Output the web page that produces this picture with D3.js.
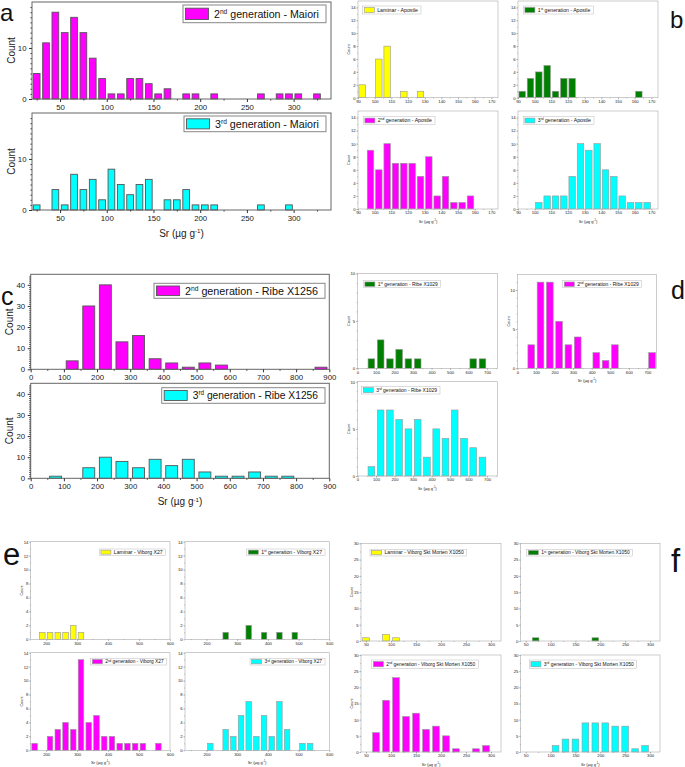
<!DOCTYPE html>
<html>
<head>
<meta charset="utf-8">
<script src="https://cdn.jsdelivr.net/npm/d3@7"></script>
<style>
  body { margin: 0; background: #fff; }
  svg { display: block; }
</style>
</head>
<body>
<script>
// Sr histograms: bin centres (µg g-1) and counts

// a - Maiori
const maioriGen2Bins = [25,35,45,55,65,75,85,95,105,115,125,135,145,155,165,185,195,215,265,285,295,305,325];
const maioriGen2Counts = [5,11,17,13,16,13,8,4,1,1,4,4,3,1,2,1,1,1,1,1,1,1,1];
const maioriGen3Bins = [25,45,55,65,75,85,95,105,115,125,135,145,165,175,185,195,205,215,265,295];
const maioriGen3Counts = [1,4,1,7,4,6,2,8,5,3,5,6,2,2,4,1,1,1,1,1];

// b - Apostle
const apostleLamBins = [92.5,102.5,107.5,117.5,127.5];
const apostleLamCounts = [2,6,8,1,1];
const apostleGen1Bins = [92.5,97.5,102.5,107.5,112.5,117.5,122.5,162.5];
const apostleGen1Counts = [1,3,4,5,1,3,3,1];
const apostleGen2Bins = [97.5,102.5,107.5,112.5,117.5,122.5,127.5,132.5,137.5,142.5,147.5,152.5,157.5];
const apostleGen2Counts = [9,6,10,7,7,7,5,8,2,5,1,1,2];
const apostleGen3Bins = [102.5,107.5,112.5,117.5,122.5,127.5,132.5,137.5,142.5,147.5,152.5,157.5,162.5,167.5];
const apostleGen3Counts = [1,2,2,2,5,10,9,10,6,5,2,1,1,1];

// c - Ribe X1256
const ribe1256Gen2Bins = [125,175,225,275,325,375,425,475,525,575,875];
const ribe1256Gen2Counts = [4,30,40,13,16,5,3,1,3,2,1];
const ribe1256Gen3Bins = [75,175,225,275,325,375,425,475,525,575,625,675,725,775];
const ribe1256Gen3Counts = [1,5,10,8,5,9,6,9,3,1,1,3,1,1];

// d - Ribe X1029
const ribe1029Gen1Bins = [75,125,175,225,275,325,625,675];
const ribe1029Gen1Counts = [1,3,1,2,1,1,1,1];
const ribe1029Gen2Bins = [75,125,175,225,275,325,425,475,525,725];
const ribe1029Gen2Counts = [3,11,11,6,3,4,2,1,3,2];
const ribe1029Gen3Bins = [75,125,175,225,275,325,375,425,475,525,575,625,675];
const ribe1029Gen3Counts = [1,7,7,6,5,6,2,5,4,7,4,3,2];

// e - Viborg X27
const x27LamBins = [187.5,212.5,237.5,262.5,287.5,312.5];
const x27LamCounts = [1,1,1,1,2,1];
const x27Gen1Bins = [262.5,337.5,387.5,437.5,487.5];
const x27Gen1Counts = [1,2,1,1,1];
const x27Gen2Bins = [162.5,212.5,237.5,262.5,287.5,312.5,337.5,362.5,387.5,412.5,437.5,462.5,487.5,512.5,562.5];
const x27Gen2Counts = [1,2,3,4,3,13,4,5,2,2,1,1,1,1,1];
const x27Gen3Bins = [212.5,262.5,287.5,312.5,337.5,362.5,387.5,412.5,437.5,462.5,512.5,537.5];
const x27Gen3Counts = [1,3,2,5,7,2,5,2,7,3,1,1];

// f - Viborg Skt Morten X1050
const x1050LamBins = [50,90,110];
const x1050LamCounts = [1,2,1];
const x1050Gen1Bins = [70,190];
const x1050Gen1Counts = [1,1];
const x1050Gen2Bins = [70,90,110,130,150,170,190,210,230,270,290];
const x1050Gen2Counts = [6,16,23,11,12,7,8,5,1,1,2];
const x1050Gen3Bins = [110,130,150,170,190,210,230,250,270,290];
const x1050Gen3Counts = [2,4,4,9,9,9,8,8,1,2];

// tick labels
const maioriXTicks = [50,100,150,200,250,300];
const maioriYTicks = [0,10];
const apostleXTicks = [90,100,110,120,130,140,150,160,170];
const apostleYTicks = [0,2,4,6,8,10,12,14];
const ribe1256XTicks = [0,100,200,300,400,500,600,700,800,900];
const ribe1256YTicks = [0,10,20,30,40];
const ribe1029XTicks = [0,100,200,300,400,500,600,700];
const ribe1029YTicks = [0,5,10];
const x27XTicks = [200,300,400,500,600];
const x27YTicks = [0,2,4,6,8,10,12,14];
const x1050XTicks = [50,100,150,200,250,300];
const x1050YTicks = [0,5,10,15,20,25,30];

const MAGENTA = "#ff00ff", CYAN = "#00ffff", YELLOW = "#ffff00", GREEN = "#008000";
const FONT = "Arial, 'Liberation Sans', sans-serif";

const big = { tick: 3, pad: 2.5, tickFont: 7.8, legFont: 10.5, labFont: 10, frame: "#666", axis: "#333", sw: 1,
              barStroke: "#555", barSW: 0.9, swX: 2.5, swW: 23, txX: 31, txPad: 7, countDx: -21, srDy: 27 };
const small = { tick: 1.5, pad: 0.8, tickFont: 4.2, legFont: 5, labFont: 4.2, frame: "#aaa", axis: "#777", sw: 0.6,
                barStroke: "#999", barSW: 0.6, swX: 1.6, swW: 10, txX: 14.5, txPad: 3, countDx: -9, srDy: 13.5 };

const svg = d3.select("body").append("svg")
  .attr("width", 685).attr("height", 767)
  .style("font-family", FONT);

// label parts: [text, superscript?]
const gen = (n, sup, rest) => [[n, false], [sup, true], [rest, false]];

const panels = [
  // a
  { big: true, box: [32,2,331,99], xDomain: [20,340], yDomain: [0,19], binWidth: 10, barFrac: 0.72,
    bins: maioriGen2Bins, counts: maioriGen2Counts, color: MAGENTA, xTicks: maioriXTicks, yTicks: maioriYTicks,
    xMinor: 25, yMinor: 1, legend: [183,5,143,17.7], label: gen("2","nd"," generation - Maiori"), count: true },
  { big: true, box: [32,113,331,210], xDomain: [20,340], yDomain: [0,19], binWidth: 10, barFrac: 0.72,
    bins: maioriGen3Bins, counts: maioriGen3Counts, color: CYAN, xTicks: maioriXTicks, yTicks: maioriYTicks,
    xMinor: 25, yMinor: 1, legend: [184,116,142,15.7], label: gen("3","rd"," generation - Maiori"), count: true, sr: true },
  // b
  { box: [358,1,498,97.7], xDomain: [90,174], yDomain: [0,15], binWidth: 5, barFrac: 0.78,
    bins: apostleLamBins, counts: apostleLamCounts, color: YELLOW, xTicks: apostleXTicks, yTicks: apostleYTicks,
    xMinor: 5, yMinor: 1, legend: [362.7,6,58.3,8], label: [["Laminar - Apostle", false]], count: true },
  { box: [518,1,658,97.7], xDomain: [90,174], yDomain: [0,15], binWidth: 5, barFrac: 0.78,
    bins: apostleGen1Bins, counts: apostleGen1Counts, color: GREEN, xTicks: apostleXTicks, yTicks: apostleYTicks,
    xMinor: 5, yMinor: 1, legend: [523.3,6,70,8], label: gen("1","st"," generation - Apostle") },
  { box: [358,111,498,209], xDomain: [90,174], yDomain: [0,15], binWidth: 5, barFrac: 0.78,
    bins: apostleGen2Bins, counts: apostleGen2Counts, color: MAGENTA, xTicks: apostleXTicks, yTicks: apostleYTicks,
    xMinor: 5, yMinor: 1, legend: [363.3,116.7,71.7,7.6], label: gen("2","nd"," generation - Apostle"), count: true, sr: true },
  { box: [518,111,658,209], xDomain: [90,174], yDomain: [0,15], binWidth: 5, barFrac: 0.78,
    bins: apostleGen3Bins, counts: apostleGen3Counts, color: CYAN, xTicks: apostleXTicks, yTicks: apostleYTicks,
    xMinor: 5, yMinor: 1, legend: [523.3,116.7,70.7,7.6], label: gen("3","rd"," generation - Apostle"), sr: true },
  // c
  { big: true, box: [30.7,274.3,329.3,369.3], xDomain: [0,900], yDomain: [0,45], binWidth: 50, barFrac: 0.72,
    bins: ribe1256Gen2Bins, counts: ribe1256Gen2Counts, color: MAGENTA, xTicks: ribe1256XTicks, yTicks: ribe1256YTicks,
    xMinor: 50, yMinor: 1, legend: [154,283.3,171,15], label: gen("2","nd"," generation - Ribe X1256"), count: true },
  { big: true, box: [30.7,383.3,329.3,478.3], xDomain: [0,900], yDomain: [0,45], binWidth: 50, barFrac: 0.72,
    bins: ribe1256Gen3Bins, counts: ribe1256Gen3Counts, color: CYAN, xTicks: ribe1256XTicks, yTicks: ribe1256YTicks,
    xMinor: 50, yMinor: 1, legend: [161.7,387.7,163.3,15.6], label: gen("3","rd"," generation - Ribe X1256"), count: true, sr: true },
  // d
  { box: [357.5,273.5,497.3,368.3], xDomain: [0,755], yDomain: [0,10], binWidth: 50, barFrac: 0.72,
    bins: ribe1029Gen1Bins, counts: ribe1029Gen1Counts, color: GREEN, xTicks: ribe1029XTicks, yTicks: ribe1029YTicks,
    xMinor: 50, yMinor: 1, legend: [363.3,280.7,77.4,7], label: gen("1","st"," generation - Ribe X1029"), count: true },
  { box: [517.3,274.3,656.7,368.3], xDomain: [0,750], yDomain: [0,12], binWidth: 50, barFrac: 0.72,
    bins: ribe1029Gen2Bins, counts: ribe1029Gen2Counts, color: MAGENTA, xTicks: ribe1029XTicks, yTicks: ribe1029YTicks,
    xMinor: 50, yMinor: 1, legend: [562.7,280.7,79,7], label: gen("2","nd"," generation - Ribe X1029"), count: true, sr: true },
  { box: [357.5,381.7,497.3,476], xDomain: [0,755], yDomain: [0,10], binWidth: 50, barFrac: 0.72,
    bins: ribe1029Gen3Bins, counts: ribe1029Gen3Counts, color: CYAN, xTicks: ribe1029XTicks, yTicks: ribe1029YTicks,
    xMinor: 50, yMinor: 1, legend: [361.7,386.3,78.3,7.7], label: gen("3","rd"," generation - Ribe X1029"), count: true, sr: true },
  // e
  { box: [30.7,541.7,170,639.3], xDomain: [150,600], yDomain: [0,14], binWidth: 25, barFrac: 0.72,
    bins: x27LamBins, counts: x27LamCounts, color: YELLOW, xTicks: x27XTicks, yTicks: x27YTicks,
    xMinor: 50, yMinor: 1, legend: [99.3,549,66.4,6.3], label: [["Laminar - Viborg  X27", false]], count: true },
  { box: [185,541.7,329.3,639.3], xDomain: [130,600], yDomain: [0,14], binWidth: 25, barFrac: 0.72,
    bins: x27Gen1Bins, counts: x27Gen1Counts, color: GREEN, xTicks: x27XTicks, yTicks: x27YTicks,
    xMinor: 50, yMinor: 1, legend: [246.7,549,78.3,6.3], label: gen("1","st"," generation - Viborg  X27") },
  { box: [30.7,652.7,170,750.3], xDomain: [150,600], yDomain: [0,14], binWidth: 25, barFrac: 0.72,
    bins: x27Gen2Bins, counts: x27Gen2Counts, color: MAGENTA, xTicks: x27XTicks, yTicks: x27YTicks,
    xMinor: 50, yMinor: 1, legend: [90.7,658.3,76,6.7], label: gen("2","nd"," generation - Viborg X27"), count: true, sr: true },
  { box: [185,652.7,329.3,750.3], xDomain: [130,600], yDomain: [0,14], binWidth: 25, barFrac: 0.72,
    bins: x27Gen3Bins, counts: x27Gen3Counts, color: CYAN, xTicks: x27XTicks, yTicks: x27YTicks,
    xMinor: 50, yMinor: 1, legend: [250,658.3,75,6.7], label: gen("3","rd"," generation - Viborg  X27"), sr: true },
  // f
  { box: [361,543.3,501,641], xDomain: [40,320], yDomain: [0,30], binWidth: 20, barFrac: 0.67,
    bins: x1050LamBins, counts: x1050LamCounts, color: YELLOW, xTicks: x1050XTicks, yTicks: x1050YTicks,
    xMinor: 25, yMinor: 2.5, legend: [370,549.3,96.7,6.7], label: [["Laminar - Viborg Skt Morten  X1050", false]], count: true },
  { box: [520.7,543.3,660,641], xDomain: [40,320], yDomain: [0,30], binWidth: 20, barFrac: 0.67,
    bins: x1050Gen1Bins, counts: x1050Gen1Counts, color: GREEN, xTicks: x1050XTicks, yTicks: x1050YTicks,
    xMinor: 25, yMinor: 2.5, legend: [526.7,549.3,106,6.7], label: gen("1","st"," generation - Viborg Skt Morten X1050") },
  { box: [361,655,501,752], xDomain: [40,320], yDomain: [0,30], binWidth: 20, barFrac: 0.67,
    bins: x1050Gen2Bins, counts: x1050Gen2Counts, color: MAGENTA, xTicks: x1050XTicks, yTicks: x1050YTicks,
    xMinor: 25, yMinor: 2.5, legend: [371.7,660,106.6,8.3], label: gen("2","nd"," generation - Viborg Skt Morten  X1050"), count: true, sr: true },
  { box: [520.7,655,660,752], xDomain: [40,320], yDomain: [0,30], binWidth: 20, barFrac: 0.67,
    bins: x1050Gen3Bins, counts: x1050Gen3Counts, color: CYAN, xTicks: x1050XTicks, yTicks: x1050YTicks,
    xMinor: 25, yMinor: 2.5, legend: [529.3,660,107.4,8.3], label: gen("3","rd"," generation - Viborg Skt Morten  X1050"), sr: true }
];

function addParts(text, parts, size) {
  let raised = false;
  parts.forEach(([str, sup]) => {
    const t = text.append("tspan").text(str);
    if (sup && !raised) { t.attr("font-size", size * 0.62).attr("dy", -size * 0.38); raised = true; }
    else if (!sup && raised) { t.attr("dy", size * 0.38); raised = false; }
  });
}

function drawHist(p) {
  const st = p.big ? big : small;
  const [x0, y0, x1, y1] = p.box;
  const x = d3.scaleLinear().domain(p.xDomain).range([x0, x1]);
  const y = d3.scaleLinear().domain(p.yDomain).range([y1, y0]);
  const g = svg.append("g");
  const half = p.binWidth * p.barFrac / 2;

  g.selectAll("rect.bar")
    .data(p.bins.map((b, i) => ({ b, c: p.counts[i] })))
    .enter().append("rect")
    .attr("class", "bar")
    .attr("x", d => x(d.b - half))
    .attr("width", d => x(d.b + half) - x(d.b - half))
    .attr("y", d => y(d.c))
    .attr("height", d => y(0) - y(d.c))
    .attr("fill", p.color)
    .attr("stroke", st.barStroke)
    .attr("stroke-width", st.barSW);

  g.append("rect")
    .attr("x", x0).attr("y", y0).attr("width", x1 - x0).attr("height", y1 - y0)
    .attr("fill", "none").attr("stroke", st.frame).attr("stroke-width", st.sw);

  // minor ticks (no labels)
  const xm = d3.range(p.xDomain[0] - p.xDomain[0] % p.xMinor, p.xDomain[1], p.xMinor)
    .filter(v => v > p.xDomain[0] && !p.xTicks.includes(v));
  const ym = d3.range(0, p.yDomain[1], p.yMinor).filter(v => !p.yTicks.includes(v));
  g.append("g").attr("transform", `translate(0,${y1})`)
    .call(d3.axisBottom(x).tickValues(xm).tickSize(st.tick * 0.55).tickFormat(""))
    .call(a => a.select(".domain").remove())
    .selectAll("line").attr("stroke", st.axis).attr("stroke-width", st.sw * 0.8);
  g.append("g").attr("transform", `translate(${x0},0)`)
    .call(d3.axisLeft(y).tickValues(ym).tickSize(st.tick * 0.55).tickFormat(""))
    .call(a => a.select(".domain").remove())
    .selectAll("line").attr("stroke", st.axis).attr("stroke-width", st.sw * 0.8);

  const xAxis = g.append("g").attr("transform", `translate(0,${y1})`)
    .call(d3.axisBottom(x).tickValues(p.xTicks).tickSize(st.tick).tickPadding(st.pad).tickFormat(d3.format("d")));
  const yAxis = g.append("g").attr("transform", `translate(${x0},0)`)
    .call(d3.axisLeft(y).tickValues(p.yTicks).tickSize(st.tick).tickPadding(st.pad).tickFormat(d3.format("d")));
  [xAxis, yAxis].forEach(a => {
    a.attr("font-size", st.tickFont).attr("font-family", FONT);
    a.select(".domain").remove();
    a.selectAll("line").attr("stroke", st.axis).attr("stroke-width", st.sw);
    a.selectAll("text").attr("fill", "#222");
  });

  // legend
  const [lx, ly, lw, lh] = p.legend;
  const lg = g.append("g").attr("transform", `translate(${lx},${ly})`);
  lg.append("rect").attr("width", lw).attr("height", lh)
    .attr("fill", "#fff").attr("stroke", p.big ? "#888" : "#bbb").attr("stroke-width", p.big ? 1 : 0.5);
  lg.append("rect").attr("x", st.swX).attr("y", lh * 0.18).attr("width", st.swW).attr("height", lh * 0.64)
    .attr("fill", p.color).attr("stroke", st.barStroke).attr("stroke-width", st.barSW);
  const lt = lg.append("text").attr("x", st.txX).attr("y", lh / 2 + st.legFont * 0.36)
    .attr("font-size", st.legFont).attr("fill", "#111");
  addParts(lt, p.label, st.legFont);
  lt.attr("textLength", lw - st.txX - st.txPad).attr("lengthAdjust", "spacingAndGlyphs");

  if (p.count) {
    const cx = x0 + st.countDx, cy = (y0 + y1) / 2;
    g.append("text").attr("x", cx).attr("y", cy).attr("dy", "0.35em")
      .attr("transform", `rotate(-90,${cx},${cy})`).attr("text-anchor", "middle")
      .attr("font-size", p.big ? st.labFont : 3.8).attr("fill", "#222").text("Count");
  }
  if (p.sr) {
    const t = g.append("text").attr("x", (x0 + x1) / 2).attr("y", y1 + st.srDy)
      .attr("text-anchor", "middle").attr("font-size", st.labFont).attr("fill", "#222");
    addParts(t, [["Sr (µg g", false], ["-1", true], [")", false]], st.labFont);
  }
}

panels.forEach(drawHist);

// panel letters
const letters = [
  { t: "a", x: 0, y: 21, s: 24 },
  { t: "b", x: 670, y: 28, s: 24 },
  { t: "c", x: 1, y: 305, s: 25 },
  { t: "d", x: 671, y: 299, s: 25 },
  { t: "e", x: 3, y: 565, s: 31 },
  { t: "f", x: 671, y: 572, s: 33 }
];
svg.selectAll("text.letter").data(letters).enter().append("text")
  .attr("class", "letter")
  .attr("x", d => d.x).attr("y", d => d.y)
  .attr("font-size", d => d.s).attr("fill", "#111")
  .text(d => d.t);
</script>
</body>
</html>
